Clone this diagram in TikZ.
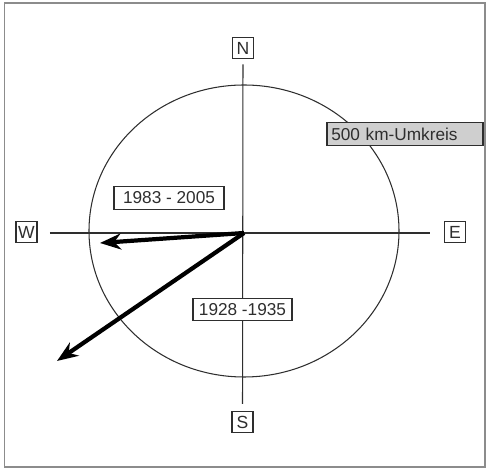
\documentclass[tikz,border=0pt]{standalone}
\usepackage{fontspec}
\setmainfont{Liberation Sans}
\usetikzlibrary{arrows.meta, calc}
\definecolor{framegray}{HTML}{8C8C8C}
\definecolor{inkgray}{HTML}{2E2E2E}
\definecolor{boxgray}{HTML}{CFCFCF}

\begin{document}
\begin{tikzpicture}[
  x=0.02cm, y=-0.02cm,
  >={Stealth[length=4.2mm, width=3.2mm]},
  line width=0.6pt,
  dirbox/.style={draw=inkgray, fill=white, text=inkgray, inner sep=0pt,
    minimum width=0.42cm, minimum height=0.42cm, font=\fontsize{10}{12}\selectfont},
  periodbox/.style={draw=inkgray, fill=white, text=inkgray, inner sep=0pt,
    minimum height=0.45cm, font=\fontsize{9.8}{12}\selectfont}
]

% Bounding box and frame
\useasboundingbox (0,0) rectangle (488,469);
\draw[framegray, line width=1pt] (4.5,3) rectangle (485,467);

% ── 500 km circle ──
\coordinate (O) at (244,233);
\draw[inkgray] (244,231) ellipse[x radius=155, y radius=146];

% ── Compass boxes ──
\node[dirbox] (N) at (243,48) {N};
\node[dirbox] (S) at (242.5,422) {S};
\node[dirbox] (W) at (26.5,232) {W};
\node[dirbox] (E) at (455,232) {E};

% ── Axes ──
\draw[inkgray, shorten <=3pt, shorten >=4pt] (N.south) -- (S.north);
\draw[inkgray, shorten <=7pt, shorten >=8pt] (W.east |- O) -- (E.west |- O);

% ── Labels ──
\node[periodbox, minimum width=2.2cm] (p1) at (169,198) {1983 - 2005};
\node[periodbox, minimum width=1.98cm] (p2) at (242.5,309.5) {1928 -1935};
\node[periodbox, fill=boxgray, minimum width=3.12cm, text width=2.95cm,
  align=left, inner xsep=0.08cm] (radius) at (405,134) {500 km-Umkreis};

% ── Direction arrows ──
\coordinate (tipW) at (100,243);
\coordinate (tipSW) at (57,361);
\draw[->, black, line width=2.4pt] (O) -- (tipW);
\draw[->, black, line width=2.4pt] (O) -- (tipSW);

\end{tikzpicture}
\end{document}
